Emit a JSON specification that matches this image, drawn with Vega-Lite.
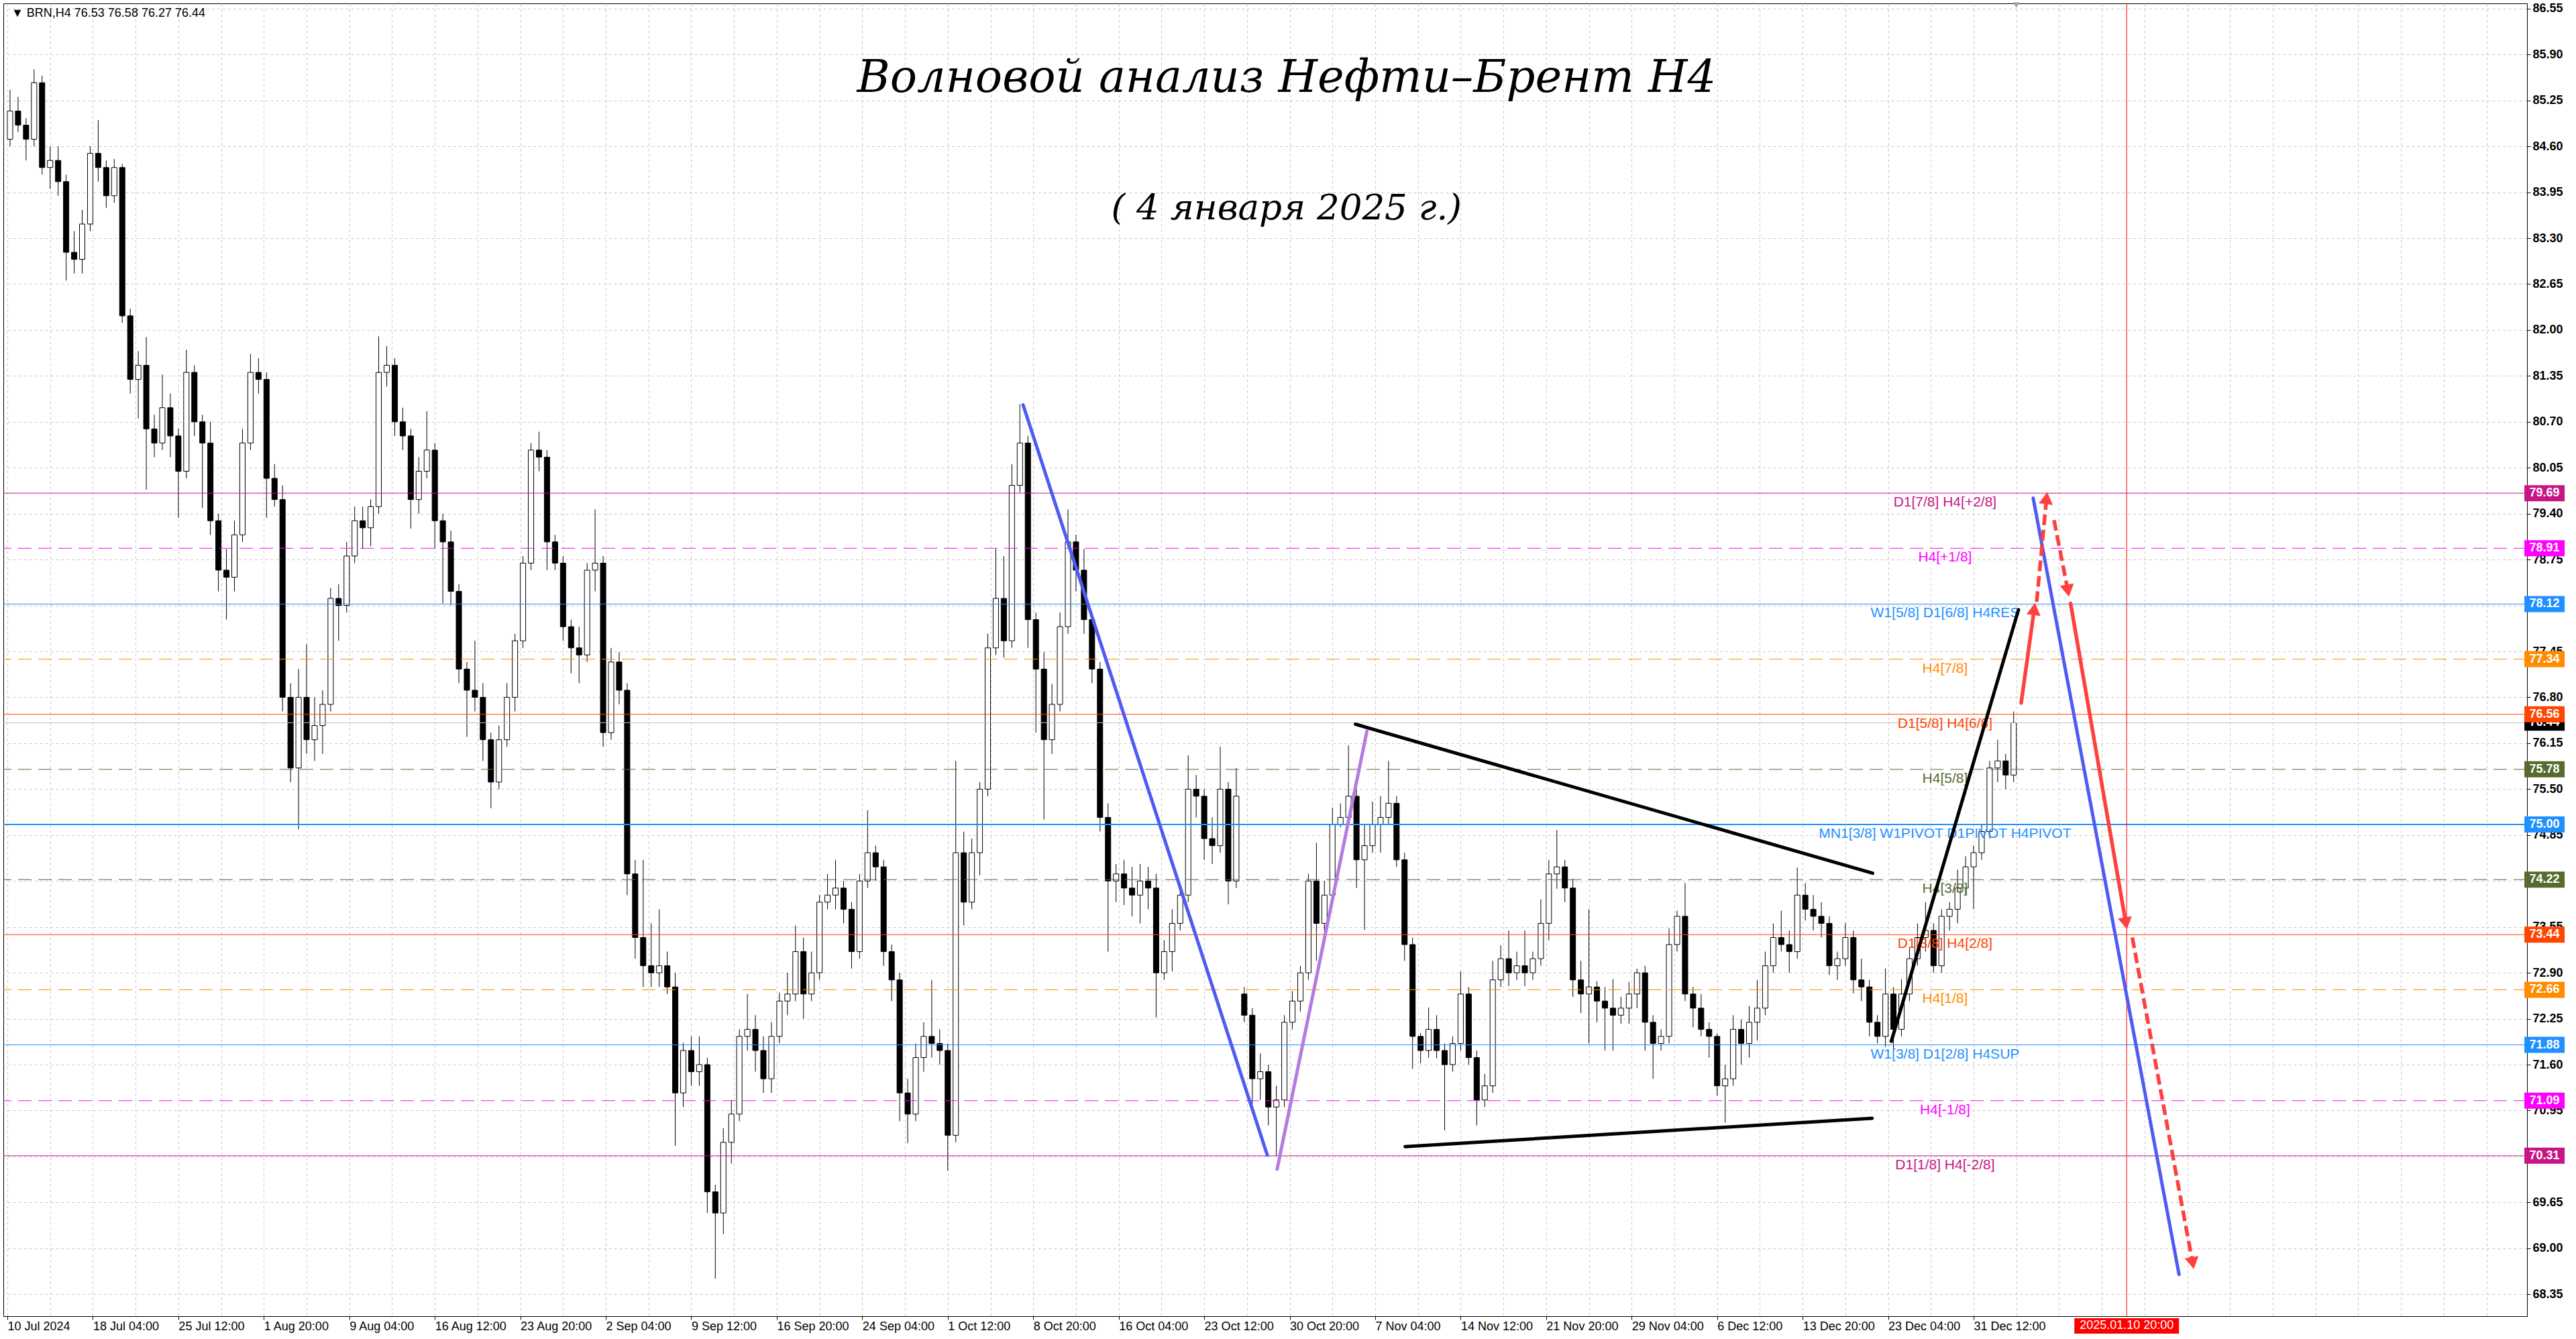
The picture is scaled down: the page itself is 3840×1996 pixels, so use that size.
{
"$schema": "https://vega.github.io/schema/vega-lite/v6.json",
"width": 3762, "height": 1957,
"autosize": "none",
"padding": {"left": 5, "top": 5, "right": 73, "bottom": 34},
"background": "#FFFFFF",
"config": {"view": {"stroke": "#000000", "strokeWidth": 1}},
"datasets": {
"candles": [
{"t":1,"o":84.7,"h":85.4,"l":84.6,"c":85.1},{"t":4,"o":85.1,"h":85.3,"l":84.8,"c":84.9},{"t":7,"o":84.9,"h":85.0,"l":84.4,"c":84.7},{"t":10,"o":84.7,"h":85.69,"l":84.6,"c":85.5},{"t":13,"o":85.5,"h":85.6,"l":84.2,"c":84.3},
{"t":16,"o":84.3,"h":84.6,"l":84.0,"c":84.4},{"t":19,"o":84.4,"h":84.6,"l":83.9,"c":84.1},{"t":22,"o":84.1,"h":84.2,"l":82.7,"c":83.1},{"t":25,"o":83.1,"h":83.4,"l":82.8,"c":83.0},{"t":28,"o":83.0,"h":83.7,"l":82.8,"c":83.5},
{"t":31,"o":83.5,"h":84.6,"l":83.4,"c":84.5},{"t":34,"o":84.5,"h":84.97,"l":84.1,"c":84.3},{"t":37,"o":84.3,"h":84.4,"l":83.73,"c":83.9},{"t":40,"o":83.9,"h":84.42,"l":83.8,"c":84.3},{"t":43,"o":84.3,"h":84.35,"l":82.1,"c":82.2},
{"t":46,"o":82.2,"h":82.3,"l":81.1,"c":81.3},{"t":49,"o":81.3,"h":81.7,"l":80.75,"c":81.5},{"t":52,"o":81.5,"h":81.9,"l":79.74,"c":80.6},{"t":55,"o":80.6,"h":80.8,"l":80.2,"c":80.4},{"t":58,"o":80.4,"h":81.37,"l":80.3,"c":80.9},
{"t":61,"o":80.9,"h":81.1,"l":80.2,"c":80.5},{"t":64,"o":80.5,"h":80.6,"l":79.34,"c":80.0},{"t":67,"o":80.0,"h":81.72,"l":79.9,"c":81.4},{"t":70,"o":81.4,"h":81.5,"l":80.5,"c":80.7},{"t":73,"o":80.7,"h":80.8,"l":79.48,"c":80.4},
{"t":76,"o":80.4,"h":80.7,"l":79.1,"c":79.3},{"t":79,"o":79.3,"h":79.4,"l":78.3,"c":78.6},{"t":82,"o":78.6,"h":78.9,"l":77.9,"c":78.5},{"t":85,"o":78.5,"h":79.3,"l":78.3,"c":79.1},{"t":88,"o":79.1,"h":80.6,"l":79.0,"c":80.4},
{"t":91,"o":80.4,"h":81.66,"l":80.3,"c":81.4},{"t":94,"o":81.4,"h":81.6,"l":81.1,"c":81.3},{"t":97,"o":81.3,"h":81.4,"l":79.34,"c":79.9},{"t":100,"o":79.9,"h":80.1,"l":79.5,"c":79.6},{"t":103,"o":79.6,"h":79.8,"l":76.6,"c":76.8},
{"t":106,"o":76.8,"h":77.0,"l":75.6,"c":75.8},{"t":109,"o":75.8,"h":77.2,"l":74.93,"c":76.8},{"t":112,"o":76.8,"h":77.55,"l":76.0,"c":76.2},{"t":115,"o":76.2,"h":76.8,"l":75.9,"c":76.4},{"t":118,"o":76.4,"h":76.9,"l":76.0,"c":76.7},
{"t":121,"o":76.7,"h":78.35,"l":76.6,"c":78.2},{"t":124,"o":78.2,"h":78.4,"l":77.6,"c":78.1},{"t":127,"o":78.1,"h":79.0,"l":78.0,"c":78.8},{"t":130,"o":78.8,"h":79.5,"l":78.7,"c":79.3},{"t":133,"o":79.3,"h":79.5,"l":78.9,"c":79.2},
{"t":136,"o":79.2,"h":79.6,"l":78.94,"c":79.5},{"t":139,"o":79.5,"h":81.91,"l":79.4,"c":81.4},{"t":142,"o":81.4,"h":81.77,"l":81.2,"c":81.5},{"t":145,"o":81.5,"h":81.6,"l":80.5,"c":80.7},{"t":148,"o":80.7,"h":80.9,"l":80.3,"c":80.5},
{"t":151,"o":80.5,"h":80.6,"l":79.19,"c":79.6},{"t":154,"o":79.6,"h":80.2,"l":79.4,"c":80.0},{"t":157,"o":80.0,"h":80.85,"l":79.9,"c":80.3},{"t":160,"o":80.3,"h":80.4,"l":78.9,"c":79.3},{"t":163,"o":79.3,"h":79.4,"l":78.13,"c":79.0},
{"t":166,"o":79.0,"h":79.16,"l":78.1,"c":78.3},{"t":169,"o":78.3,"h":78.4,"l":77.0,"c":77.2},{"t":172,"o":77.2,"h":77.3,"l":76.24,"c":76.9},{"t":175,"o":76.9,"h":77.6,"l":76.6,"c":76.8},{"t":178,"o":76.8,"h":77.0,"l":75.9,"c":76.2},
{"t":181,"o":76.2,"h":76.3,"l":75.23,"c":75.6},{"t":184,"o":75.6,"h":76.4,"l":75.5,"c":76.2},{"t":187,"o":76.2,"h":77.0,"l":76.1,"c":76.8},{"t":190,"o":76.8,"h":77.7,"l":76.6,"c":77.6},{"t":193,"o":77.6,"h":78.8,"l":77.5,"c":78.7},
{"t":196,"o":78.7,"h":80.4,"l":78.6,"c":80.3},{"t":199,"o":80.3,"h":80.56,"l":80.0,"c":80.2},{"t":202,"o":80.2,"h":80.3,"l":78.6,"c":79.0},{"t":205,"o":79.0,"h":79.1,"l":78.6,"c":78.7},{"t":208,"o":78.7,"h":78.8,"l":77.6,"c":77.8},
{"t":211,"o":77.8,"h":77.9,"l":77.14,"c":77.5},{"t":214,"o":77.5,"h":77.8,"l":77.0,"c":77.4},{"t":217,"o":77.4,"h":78.7,"l":77.3,"c":78.6},{"t":220,"o":78.6,"h":79.46,"l":78.3,"c":78.7},{"t":223,"o":78.7,"h":78.8,"l":76.1,"c":76.3},
{"t":226,"o":76.3,"h":77.5,"l":76.2,"c":77.3},{"t":229,"o":77.3,"h":77.44,"l":76.7,"c":76.9},{"t":232,"o":76.9,"h":77.0,"l":74.0,"c":74.3},{"t":235,"o":74.3,"h":74.5,"l":73.1,"c":73.4},{"t":238,"o":73.4,"h":74.5,"l":72.7,"c":73.0},
{"t":241,"o":73.0,"h":73.6,"l":72.7,"c":72.9},{"t":244,"o":72.9,"h":73.8,"l":72.7,"c":73.0},{"t":247,"o":73.0,"h":73.2,"l":72.6,"c":72.7},{"t":250,"o":72.7,"h":72.9,"l":70.45,"c":71.2},{"t":253,"o":71.2,"h":71.91,"l":71.0,"c":71.8},
{"t":256,"o":71.8,"h":72.0,"l":71.3,"c":71.5},{"t":259,"o":71.5,"h":72.0,"l":71.3,"c":71.6},{"t":262,"o":71.6,"h":71.7,"l":69.5,"c":69.8},{"t":265,"o":69.8,"h":69.9,"l":68.57,"c":69.5},{"t":268,"o":69.5,"h":70.7,"l":69.2,"c":70.5},
{"t":271,"o":70.5,"h":71.1,"l":70.2,"c":70.9},{"t":274,"o":70.9,"h":72.1,"l":70.8,"c":72.0},{"t":277,"o":72.0,"h":72.6,"l":71.8,"c":72.1},{"t":280,"o":72.1,"h":72.3,"l":71.5,"c":71.8},{"t":283,"o":71.8,"h":72.0,"l":71.2,"c":71.4},
{"t":286,"o":71.4,"h":72.2,"l":71.2,"c":72.0},{"t":289,"o":72.0,"h":72.62,"l":71.9,"c":72.5},{"t":292,"o":72.5,"h":72.9,"l":72.3,"c":72.6},{"t":295,"o":72.6,"h":73.57,"l":72.5,"c":73.2},{"t":298,"o":73.2,"h":73.4,"l":72.25,"c":72.6},
{"t":301,"o":72.6,"h":73.2,"l":72.5,"c":72.9},{"t":304,"o":72.9,"h":74.0,"l":72.8,"c":73.9},{"t":307,"o":73.9,"h":74.3,"l":73.8,"c":74.0},{"t":310,"o":74.0,"h":74.5,"l":73.8,"c":74.1},{"t":313,"o":74.1,"h":74.2,"l":73.6,"c":73.8},
{"t":316,"o":73.8,"h":73.9,"l":72.96,"c":73.2},{"t":319,"o":73.2,"h":74.3,"l":73.1,"c":74.2},{"t":322,"o":74.2,"h":75.2,"l":74.1,"c":74.6},{"t":325,"o":74.6,"h":74.7,"l":74.2,"c":74.4},{"t":328,"o":74.4,"h":74.5,"l":73.0,"c":73.2},
{"t":331,"o":73.2,"h":73.3,"l":72.5,"c":72.8},{"t":334,"o":72.8,"h":72.9,"l":70.8,"c":71.2},{"t":337,"o":71.2,"h":71.4,"l":70.49,"c":70.9},{"t":340,"o":70.9,"h":71.9,"l":70.8,"c":71.7},{"t":343,"o":71.7,"h":72.2,"l":71.5,"c":72.0},
{"t":346,"o":72.0,"h":72.8,"l":71.7,"c":71.9},{"t":349,"o":71.9,"h":72.1,"l":71.6,"c":71.8},{"t":352,"o":71.8,"h":71.9,"l":70.1,"c":70.6},{"t":355,"o":70.6,"h":75.9,"l":70.5,"c":74.6},{"t":358,"o":74.6,"h":74.9,"l":73.57,"c":73.9},
{"t":361,"o":73.9,"h":74.8,"l":73.8,"c":74.6},{"t":364,"o":74.6,"h":75.6,"l":74.28,"c":75.5},{"t":367,"o":75.5,"h":77.7,"l":75.4,"c":77.5},{"t":370,"o":77.5,"h":78.9,"l":77.4,"c":78.2},{"t":373,"o":78.2,"h":78.8,"l":77.36,"c":77.6},
{"t":376,"o":77.6,"h":80.1,"l":77.5,"c":79.8},{"t":379,"o":79.8,"h":80.95,"l":79.7,"c":80.4},{"t":382,"o":80.4,"h":80.5,"l":77.5,"c":77.9},{"t":385,"o":77.9,"h":78.0,"l":76.3,"c":77.2},{"t":388,"o":77.2,"h":77.44,"l":75.07,"c":76.2},
{"t":391,"o":76.2,"h":76.99,"l":76.0,"c":76.7},{"t":394,"o":76.7,"h":78.0,"l":76.6,"c":77.8},{"t":397,"o":77.8,"h":79.46,"l":77.7,"c":79.0},{"t":400,"o":79.0,"h":79.1,"l":78.3,"c":78.6},{"t":403,"o":78.6,"h":78.9,"l":77.7,"c":77.9},
{"t":406,"o":77.9,"h":78.0,"l":77.0,"c":77.2},{"t":409,"o":77.2,"h":77.3,"l":74.9,"c":75.1},{"t":412,"o":75.1,"h":75.3,"l":73.2,"c":74.2},{"t":415,"o":74.2,"h":74.44,"l":73.9,"c":74.3},{"t":418,"o":74.3,"h":74.5,"l":73.86,"c":74.1},
{"t":421,"o":74.1,"h":74.4,"l":73.7,"c":74.0},{"t":424,"o":74.0,"h":74.44,"l":73.6,"c":74.2},{"t":427,"o":74.2,"h":74.4,"l":73.8,"c":74.1},{"t":430,"o":74.1,"h":74.3,"l":72.27,"c":72.9},{"t":433,"o":72.9,"h":73.36,"l":72.8,"c":73.2},
{"t":436,"o":73.2,"h":73.8,"l":72.92,"c":73.6},{"t":439,"o":73.6,"h":74.09,"l":73.5,"c":74.0},{"t":442,"o":74.0,"h":75.98,"l":73.9,"c":75.5},{"t":445,"o":75.5,"h":75.7,"l":75.1,"c":75.4},{"t":448,"o":75.4,"h":75.5,"l":74.5,"c":74.8},
{"t":451,"o":74.8,"h":75.1,"l":74.44,"c":74.7},{"t":454,"o":74.7,"h":76.1,"l":74.6,"c":75.5},{"t":457,"o":75.5,"h":75.6,"l":73.87,"c":74.2},{"t":460,"o":74.2,"h":75.8,"l":74.1,"c":75.4},{"t":463,"o":72.6,"h":72.7,"l":72.2,"c":72.3},
{"t":466,"o":72.3,"h":72.4,"l":71.04,"c":71.4},{"t":469,"o":71.4,"h":71.76,"l":71.1,"c":71.5},{"t":472,"o":71.5,"h":71.6,"l":70.74,"c":71.0},{"t":475,"o":71.0,"h":71.3,"l":70.31,"c":71.1},{"t":478,"o":71.1,"h":72.3,"l":71.0,"c":72.2},
{"t":481,"o":72.2,"h":72.64,"l":72.1,"c":72.5},{"t":484,"o":72.5,"h":73.0,"l":72.35,"c":72.9},{"t":487,"o":72.9,"h":74.3,"l":72.8,"c":74.2},{"t":490,"o":74.2,"h":74.74,"l":73.07,"c":73.6},{"t":493,"o":73.6,"h":74.2,"l":73.36,"c":74.0},
{"t":496,"o":74.0,"h":75.24,"l":73.9,"c":75.0},{"t":499,"o":75.0,"h":75.3,"l":74.96,"c":75.1},{"t":502,"o":75.1,"h":76.12,"l":75.0,"c":75.4},{"t":505,"o":75.4,"h":75.5,"l":74.1,"c":74.5},{"t":508,"o":74.5,"h":75.0,"l":73.51,"c":74.7},
{"t":511,"o":74.7,"h":75.32,"l":74.6,"c":75.0},{"t":514,"o":75.0,"h":75.4,"l":74.6,"c":75.1},{"t":517,"o":75.1,"h":75.9,"l":75.0,"c":75.3},{"t":520,"o":75.3,"h":75.4,"l":74.4,"c":74.5},{"t":523,"o":74.5,"h":74.6,"l":73.07,"c":73.3},
{"t":526,"o":73.3,"h":73.4,"l":71.54,"c":72.0},{"t":529,"o":72.0,"h":72.05,"l":71.62,"c":71.8},{"t":532,"o":71.8,"h":72.41,"l":71.7,"c":72.1},{"t":535,"o":72.1,"h":72.3,"l":71.69,"c":71.8},{"t":538,"o":71.8,"h":71.9,"l":70.67,"c":71.6},
{"t":541,"o":71.6,"h":72.0,"l":71.5,"c":71.9},{"t":544,"o":71.9,"h":72.92,"l":71.8,"c":72.6},{"t":547,"o":72.6,"h":72.7,"l":71.6,"c":71.7},{"t":550,"o":71.7,"h":71.8,"l":70.74,"c":71.1},{"t":553,"o":71.1,"h":71.47,"l":71.0,"c":71.3},
{"t":556,"o":71.3,"h":73.07,"l":71.2,"c":72.8},{"t":559,"o":72.8,"h":73.29,"l":72.7,"c":73.1},{"t":562,"o":73.1,"h":73.5,"l":72.71,"c":72.9},{"t":565,"o":72.9,"h":73.2,"l":72.8,"c":73.0},{"t":568,"o":73.0,"h":73.5,"l":72.71,"c":72.9},
{"t":571,"o":72.9,"h":73.2,"l":72.8,"c":73.1},{"t":574,"o":73.1,"h":73.94,"l":73.0,"c":73.6},{"t":577,"o":73.6,"h":74.5,"l":73.36,"c":74.3},{"t":580,"o":74.3,"h":74.92,"l":74.09,"c":74.4},{"t":583,"o":74.4,"h":74.5,"l":73.9,"c":74.1},
{"t":586,"o":74.1,"h":74.23,"l":72.56,"c":72.8},{"t":589,"o":72.8,"h":73.07,"l":72.33,"c":72.6},{"t":592,"o":72.6,"h":73.8,"l":71.9,"c":72.7},{"t":595,"o":72.7,"h":72.78,"l":72.2,"c":72.5},{"t":598,"o":72.5,"h":72.7,"l":71.8,"c":72.4},
{"t":601,"o":72.4,"h":72.81,"l":71.8,"c":72.3},{"t":604,"o":72.3,"h":72.56,"l":72.18,"c":72.4},{"t":607,"o":72.4,"h":72.77,"l":72.18,"c":72.6},{"t":610,"o":72.6,"h":72.96,"l":72.4,"c":72.9},{"t":613,"o":72.9,"h":73.0,"l":71.8,"c":72.2},
{"t":616,"o":72.2,"h":72.3,"l":71.4,"c":71.9},{"t":619,"o":71.9,"h":72.1,"l":71.8,"c":72.0},{"t":622,"o":72.0,"h":73.53,"l":71.9,"c":73.3},{"t":625,"o":73.3,"h":73.78,"l":73.2,"c":73.7},{"t":628,"o":73.7,"h":74.17,"l":72.5,"c":72.6},
{"t":631,"o":72.6,"h":72.7,"l":72.13,"c":72.4},{"t":634,"o":72.4,"h":72.6,"l":72.0,"c":72.1},{"t":637,"o":72.1,"h":72.2,"l":71.7,"c":72.0},{"t":640,"o":72.0,"h":72.04,"l":71.16,"c":71.3},{"t":643,"o":71.3,"h":71.6,"l":70.78,"c":71.4},
{"t":646,"o":71.4,"h":72.3,"l":71.3,"c":72.1},{"t":649,"o":72.1,"h":72.24,"l":71.6,"c":71.9},{"t":652,"o":71.9,"h":72.43,"l":71.7,"c":72.2},{"t":655,"o":72.2,"h":72.8,"l":71.94,"c":72.4},{"t":658,"o":72.4,"h":73.2,"l":72.3,"c":73.0},
{"t":661,"o":73.0,"h":73.6,"l":72.9,"c":73.4},{"t":664,"o":73.4,"h":73.78,"l":73.2,"c":73.3},{"t":667,"o":73.3,"h":73.5,"l":72.9,"c":73.2},{"t":670,"o":73.2,"h":74.39,"l":73.1,"c":74.0},{"t":673,"o":74.0,"h":74.17,"l":73.64,"c":73.8},
{"t":676,"o":73.8,"h":74.0,"l":73.5,"c":73.7},{"t":679,"o":73.7,"h":73.9,"l":73.4,"c":73.6},{"t":682,"o":73.6,"h":73.7,"l":72.87,"c":73.0},{"t":685,"o":73.0,"h":73.2,"l":72.8,"c":73.1},{"t":688,"o":73.1,"h":73.6,"l":73.0,"c":73.4},
{"t":691,"o":73.4,"h":73.5,"l":72.61,"c":72.8},{"t":694,"o":72.8,"h":73.1,"l":72.5,"c":72.7},{"t":697,"o":72.7,"h":72.8,"l":72.0,"c":72.2},{"t":700,"o":72.2,"h":72.3,"l":71.9,"c":72.0},{"t":703,"o":72.0,"h":72.96,"l":71.85,"c":72.6},
{"t":706,"o":72.6,"h":72.7,"l":71.8,"c":72.1},{"t":709,"o":72.1,"h":72.81,"l":72.0,"c":72.6},{"t":712,"o":72.6,"h":73.25,"l":72.5,"c":73.1},{"t":715,"o":73.1,"h":73.6,"l":73.0,"c":73.4},{"t":718,"o":73.4,"h":73.9,"l":73.2,"c":73.5},
{"t":721,"o":73.5,"h":73.6,"l":72.9,"c":73.0},{"t":724,"o":73.0,"h":73.8,"l":72.9,"c":73.7},{"t":727,"o":73.7,"h":73.9,"l":73.5,"c":73.8},{"t":730,"o":73.8,"h":74.36,"l":73.6,"c":74.1},{"t":733,"o":74.1,"h":74.55,"l":74.0,"c":74.4},
{"t":736,"o":74.4,"h":74.7,"l":73.8,"c":74.6},{"t":739,"o":74.6,"h":75.0,"l":74.5,"c":74.9},{"t":742,"o":74.9,"h":75.9,"l":74.8,"c":75.8},{"t":745,"o":75.8,"h":76.2,"l":75.6,"c":75.9},{"t":748,"o":75.9,"h":76.0,"l":75.5,"c":75.7},
{"t":751,"o":75.7,"h":76.6,"l":75.6,"c":76.44}
],
"levels": [
{"p":79.69,"k":"mvr","name":"D1[7/8] H4[+2/8]"},
{"p":78.91,"k":"mag","name":"H4[+1/8]"},
{"p":78.12,"k":"dblue","name":"W1[5/8] D1[6/8] H4RES"},
{"p":77.34,"k":"dorange","name":"H4[7/8]"},
{"p":76.56,"k":"ored","name":"D1[5/8] H4[6/8]"},
{"p":75.78,"k":"olive","name":"H4[5/8]"},
{"p":75.00,"k":"dblue","name":"MN1[3/8] W1PIVOT D1PIVOT H4PIVOT"},
{"p":74.22,"k":"olive","name":"H4[3/8]"},
{"p":73.44,"k":"ored","name":"D1[3/8] H4[2/8]"},
{"p":72.66,"k":"dorange","name":"H4[1/8]"},
{"p":71.88,"k":"dblue","name":"W1[3/8] D1[2/8] H4SUP"},
{"p":71.09,"k":"mag","name":"H4[-1/8]"},
{"p":70.31,"k":"mvr","name":"D1[1/8] H4[-2/8]"}
],
"lines": [
{"id":"b1","k":"blue","t":380.2,"p":80.94},{"id":"b1","k":"blue","t":471.6,"p":70.32},
{"id":"pu","k":"purple","t":475.3,"p":70.12},{"id":"pu","k":"purple","t":508.9,"p":76.32},
{"id":"bu","k":"black","t":504.6,"p":76.42},{"id":"bu","k":"black","t":698.2,"p":74.31},
{"id":"bl","k":"black","t":523.2,"p":70.44},{"id":"bl","k":"black","t":698.0,"p":70.84},
{"id":"br","k":"black","t":705.2,"p":71.93},{"id":"br","k":"black","t":752.8,"p":78.04},
{"id":"b2","k":"blue","t":758.3,"p":79.62},{"id":"b2","k":"blue","t":812.9,"p":68.63},
{"id":"r1","k":"red","t":753.8,"p":76.72},{"id":"r1","k":"red","t":758.7,"p":78.05},
{"id":"r2","k":"redDash","t":759.6,"p":78.15},{"id":"r2","k":"redDash","t":763.3,"p":79.62},
{"id":"r3","k":"redDash","t":766.1,"p":79.31},{"id":"r3","k":"redDash","t":771.3,"p":78.31},
{"id":"r4","k":"red","t":772.3,"p":78.13},{"id":"r4","k":"red","t":793.0,"p":73.60},
{"id":"r5","k":"redDash","t":795.4,"p":73.40},{"id":"r5","k":"redDash","t":818.0,"p":68.79}
],
"heads": [
{"t":758.7,"p":78.05,"dir":"up"},{"t":763.3,"p":79.62,"dir":"up"},
{"t":771.3,"p":78.31,"dir":"down"},{"t":793.0,"p":73.60,"dir":"down"},{"t":818.0,"p":68.79,"dir":"down"}
]
},
"layer": [
{"data": {"name": "candles"},
 "mark": {"type": "rule", "color": "#000000", "strokeWidth": 1},
 "encoding": {
  "x": {"field": "t", "type": "quantitative",
   "scale": {"domain": [-0.25, 941.9], "nice": false, "zero": false},
   "axis": {"orient": "bottom", "title": null,
    "values": [0,16,32,48,64,80,96,112,128,144,160,176,192,208,224,240,256,272,288,304,320,336,352,368,384,400,416,432,448,464,480,496,512,528,544,560,576,592,608,624,640,656,672,688,704,720,736,752,768,784,800,816,832,848,864,880,896,912,928],
    "labelExpr": "(datum.value % 32 === 0 && datum.value <= 736) ? ['10 Jul 2024','18 Jul 04:00','25 Jul 12:00','1 Aug 20:00','9 Aug 04:00','16 Aug 12:00','23 Aug 20:00','2 Sep 04:00','9 Sep 12:00','16 Sep 20:00','24 Sep 04:00','1 Oct 12:00','8 Oct 20:00','16 Oct 04:00','23 Oct 12:00','30 Oct 20:00','7 Nov 04:00','14 Nov 12:00','21 Nov 20:00','29 Nov 04:00','6 Dec 12:00','13 Dec 20:00','23 Dec 04:00','31 Dec 12:00'][datum.value / 32] : ''",
    "grid": true, "gridColor": "#C8C8C8", "gridDash": [4, 4], "gridWidth": 1,
    "tickSize": 5, "tickColor": "#000000",
    "tickOpacity": {"condition": {"test": "datum.value % 32 === 0 && datum.value <= 736", "value": 1}, "value": 0},
    "domainColor": "#000000", "labelAlign": "left", "labelPadding": 1,
    "labelFont": "Liberation Sans", "labelFontSize": 18, "labelColor": "#000000",
    "labelFlush": false, "labelOverlap": false, "labelBound": false}},
  "y": {"field": "l", "type": "quantitative",
   "scale": {"domain": [68.039, 86.624], "nice": false, "zero": false},
   "axis": {"orient": "right", "title": null,
    "values": [68.35,69.0,69.65,70.3,70.95,71.6,72.25,72.9,73.55,74.2,74.85,75.5,76.15,76.8,77.45,78.1,78.75,79.4,80.05,80.7,81.35,82.0,82.65,83.3,83.95,84.6,85.25,85.9,86.55],
    "format": ".2f", "grid": true, "gridColor": "#C8C8C8", "gridDash": [4, 4], "gridWidth": 1,
    "tickSize": 5, "tickColor": "#000000", "domainColor": "#000000",
    "labelFont": "Liberation Sans", "labelFontSize": 18, "labelFontWeight": "bold", "labelColor": "#000000",
    "labelPadding": 3, "labelAlign": "left", "labelBaseline": "middle",
    "labelFlush": false, "labelOverlap": false, "labelBound": false}},
  "y2": {"field": "h"}
 }},
{"data": {"name": "candles"},
 "mark": {"type": "bar", "width": 8, "stroke": "#000000", "strokeWidth": 1},
 "encoding": {
  "x": {"field": "t", "type": "quantitative"},
  "y": {"field": "o", "type": "quantitative"},
  "y2": {"field": "c"},
  "fill": {"condition": {"test": "datum.c >= datum.o", "value": "#FFFFFF"}, "value": "#000000"}
 }},
{"data": {"name": "levels"},
 "transform": [{"filter": "(datum.k === 'mvr' || datum.k === 'dblue' || datum.k === 'ored') && datum.p !== 75"}],
 "mark": {"type": "rule", "strokeWidth": 1},
 "encoding": {
  "y": {"field": "p", "type": "quantitative"},
  "color": {"field": "k", "type": "nominal", "legend": null,
   "scale": {"domain": ["mvr","mag","dblue","dorange","ored","olive","blue","purple","black","red","redDash"], "range": ["#C71585","#FF00FF","#1E90FF","#FF8C00","#FF4500","#556B2F","#4F5BF2","#B57BE0","#000000","#FF4040","#FF4040"]}}
 }},
{"data": {"name": "levels"},
 "transform": [{"filter": "datum.p === 75"}],
 "mark": {"type": "rule", "strokeWidth": 2},
 "encoding": {
  "y": {"field": "p", "type": "quantitative"},
  "color": {"field": "k", "type": "nominal", "legend": null}
 }},
{"data": {"name": "levels"},
 "transform": [{"filter": "datum.k === 'mag' || datum.k === 'dorange' || datum.k === 'olive'"}],
 "mark": {"type": "rule", "strokeWidth": 1, "strokeDash": [20, 10]},
 "encoding": {
  "y": {"field": "p", "type": "quantitative"},
  "color": {"field": "k", "type": "nominal", "legend": null}
 }},
{"data": {"values": [{"p": 76.44}]},
 "mark": {"type": "rule", "strokeWidth": 1, "color": "#C0C0C0"},
 "encoding": {"y": {"field": "p", "type": "quantitative"}}},
{"data": {"values": [{"d": "2025.01.10 20:00"}]},
 "mark": {"type": "rule", "strokeWidth": 1, "color": "#FF0000"},
 "encoding": {"x": {"datum": 793.3, "type": "quantitative"}}},
{"data": {"values": [{"d": "shift"}]},
 "mark": {"type": "point", "shape": "triangle-down", "filled": true, "size": 90, "color": "#A0A0A0", "opacity": 1},
 "encoding": {
  "x": {"datum": 752, "type": "quantitative"},
  "y": {"datum": 86.6, "type": "quantitative"}
 }},
{"data": {"name": "levels"},
 "mark": {"type": "text", "font": "Liberation Sans", "fontSize": 21, "align": "center", "baseline": "top", "dy": 3},
 "encoding": {
  "x": {"datum": 725.3, "type": "quantitative"},
  "y": {"field": "p", "type": "quantitative"},
  "text": {"field": "name"},
  "color": {"field": "k", "type": "nominal", "legend": null}
 }},
{"data": {"name": "lines"},
 "transform": [{"filter": "datum.k === 'black' || datum.k === 'blue' || datum.k === 'purple'"}],
 "mark": {"type": "line", "strokeWidth": 5, "strokeCap": "round"},
 "encoding": {
  "x": {"field": "t", "type": "quantitative"},
  "y": {"field": "p", "type": "quantitative"},
  "detail": {"field": "id"},
  "color": {"field": "k", "type": "nominal", "legend": null}
 }},
{"data": {"name": "lines"},
 "transform": [{"filter": "datum.k === 'red'"}],
 "mark": {"type": "line", "strokeWidth": 5.5, "strokeCap": "round"},
 "encoding": {
  "x": {"field": "t", "type": "quantitative"},
  "y": {"field": "p", "type": "quantitative"},
  "detail": {"field": "id"},
  "color": {"field": "k", "type": "nominal", "legend": null}
 }},
{"data": {"name": "lines"},
 "transform": [{"filter": "datum.k === 'redDash'"}],
 "mark": {"type": "line", "strokeWidth": 5.5, "strokeDash": [16, 7]},
 "encoding": {
  "x": {"field": "t", "type": "quantitative"},
  "y": {"field": "p", "type": "quantitative"},
  "detail": {"field": "id"},
  "color": {"field": "k", "type": "nominal", "legend": null}
 }},
{"data": {"name": "heads"},
 "transform": [{"filter": "datum.dir === 'up'"}],
 "mark": {"type": "point", "shape": "triangle-up", "filled": true, "size": 440, "angle": 7, "color": "#FF4040", "opacity": 1},
 "encoding": {
  "x": {"field": "t", "type": "quantitative"},
  "y": {"field": "p", "type": "quantitative"}
 }},
{"data": {"name": "heads"},
 "transform": [{"filter": "datum.dir === 'down'"}],
 "mark": {"type": "point", "shape": "triangle-down", "filled": true, "size": 440, "angle": -10, "color": "#FF4040", "opacity": 1},
 "encoding": {
  "x": {"field": "t", "type": "quantitative"},
  "y": {"field": "p", "type": "quantitative"}
 }},
{"data": {"values": [{"p": 76.44}]},
 "mark": {"type": "point", "shape": "M-1,-0.4H1V0.4H-1Z", "filled": true, "size": 3600, "color": "#000000", "opacity": 1},
 "encoding": {
  "x": {"datum": 949.7, "type": "quantitative"},
  "y": {"field": "p", "type": "quantitative"}
 }},
{"data": {"values": [{"p": 76.44}]},
 "mark": {"type": "text", "font": "Liberation Sans", "fontSize": 18, "fontWeight": "bold", "align": "center", "baseline": "middle", "color": "#FFFFFF"},
 "encoding": {
  "x": {"datum": 949.7, "type": "quantitative"},
  "y": {"field": "p", "type": "quantitative"},
  "text": {"field": "p", "format": ".2f"}
 }},
{"data": {"name": "levels"},
 "mark": {"type": "point", "shape": "M-1,-0.4H1V0.4H-1Z", "filled": true, "size": 3600, "opacity": 1},
 "encoding": {
  "x": {"datum": 949.7, "type": "quantitative"},
  "y": {"field": "p", "type": "quantitative"},
  "color": {"field": "k", "type": "nominal", "legend": null}
 }},
{"data": {"name": "levels"},
 "mark": {"type": "text", "font": "Liberation Sans", "fontSize": 18, "fontWeight": "bold", "align": "center", "baseline": "middle", "color": "#FFFFFF"},
 "encoding": {
  "x": {"datum": 949.7, "type": "quantitative"},
  "y": {"field": "p", "type": "quantitative"},
  "text": {"field": "p", "format": ".2f"}
 }},
{"data": {"values": [{"d": "2025.01.10 20:00"}]},
 "mark": {"type": "point", "shape": "M-1,-0.147H1V0.147H-1Z", "filled": true, "size": 24336, "color": "#FF0000", "opacity": 1},
 "encoding": {
  "x": {"datum": 793.3, "type": "quantitative"},
  "y": {"datum": 67.902, "type": "quantitative"}
 }},
{"data": {"values": [{"d": "2025.01.10 20:00"}]},
 "mark": {"type": "text", "font": "Liberation Sans", "fontSize": 18, "align": "center", "baseline": "middle", "color": "#FFFFFF"},
 "encoding": {
  "x": {"datum": 793.3, "type": "quantitative"},
  "y": {"datum": 67.902, "type": "quantitative"},
  "text": {"field": "d"}
 }},
{"data": {"values": [{"s": "▼ BRN,H4  76.53 76.58 76.27 76.44"}]},
 "mark": {"type": "text", "font": "Liberation Sans", "fontSize": 18, "align": "left", "baseline": "middle", "color": "#000000"},
 "encoding": {
  "x": {"datum": 1.5, "type": "quantitative"},
  "y": {"datum": 86.486, "type": "quantitative"},
  "text": {"field": "s"}
 }},
{"data": {"values": [{"s": "Волновой анализ Нефти–Брент H4"}]},
 "mark": {"type": "text", "font": "DejaVu Serif", "fontStyle": "italic", "fontSize": 67, "align": "center", "baseline": "middle", "color": "#000000"},
 "encoding": {
  "x": {"datum": 478.8, "type": "quantitative"},
  "y": {"datum": 85.556, "type": "quantitative"},
  "text": {"field": "s"}
 }},
{"data": {"values": [{"s": "( 4 января 2025 г.)"}]},
 "mark": {"type": "text", "font": "DejaVu Serif", "fontStyle": "italic", "fontSize": 53, "align": "center", "baseline": "middle", "color": "#000000"},
 "encoding": {
  "x": {"datum": 478.8, "type": "quantitative"},
  "y": {"datum": 83.72, "type": "quantitative"},
  "text": {"field": "s"}
 }}
]
}
